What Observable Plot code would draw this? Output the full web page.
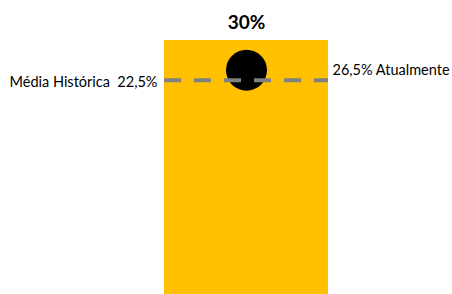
<!DOCTYPE html>
<html><head><meta charset="utf-8">
<script src="https://cdn.jsdelivr.net/npm/d3@7"></script>
<script src="https://cdn.jsdelivr.net/npm/@observablehq/plot@0.6"></script>
<style>body{margin:0;background:#fff;font-family:Lato,sans-serif}</style>
</head><body><div id="chart"></div>
<script>
const categories = ["Potencial"];
const barValues = [30];          // bar height (%)
const currentValues = [26.5];    // black dot, "Atualmente"
const historicalLabelValues = [22.5]; // label of the dashed line
const historicalLineLevel = [25.3];   // where the dashed line sits on the bar's scale

const fmt = v => v.toLocaleString("pt-BR", {minimumFractionDigits: Number.isInteger(v) ? 0 : 1}) + "%";

const bars = categories.map((c, i) => ({cat: c, value: barValues[i]}));
const cur = categories.map((c, i) => ({cat: c, value: currentValues[i]}));
const hist = historicalLineLevel.map((v, i) => ({level: v, label: historicalLabelValues[i]}));

const chart = Plot.plot({
  width: 452, height: 294,
  marginTop: 40, marginBottom: 0, marginLeft: 164, marginRight: 124,
  style: {fontFamily: "Lato, sans-serif", background: "#fff", overflow: "visible"},
  x: {domain: categories, padding: 0, axis: null},
  y: {domain: [0, 30], axis: null},
  marks: [
    Plot.barY(bars, {x: "cat", y: "value", fill: "#FFC000"}),
    Plot.dot(cur, {x: "cat", y: "value", r: 20.5, fill: "#000", stroke: null}),
    Plot.ruleY(hist, {y: "level", stroke: "#808080", strokeWidth: 4, strokeDasharray: "17,13"}),
    Plot.text(bars, {x: "cat", y: "value", text: d => fmt(d.value), dy: -18, fontSize: 19, fontWeight: "bold", fill: "#000"}),
    Plot.text(hist, {y: "level", frameAnchor: "left", text: d => "Média Histórica  " + fmt(d.label), textAnchor: "end", dx: -7, dy: 2, fontSize: 14.5, fill: "#000"}),
    Plot.text(cur, {y: "value", frameAnchor: "right", text: d => fmt(d.value) + " Atualmente", textAnchor: "start", dx: 4, fontSize: 14.5, fill: "#000"})
  ]
});
document.getElementById("chart").appendChild(chart);
</script></body></html>
